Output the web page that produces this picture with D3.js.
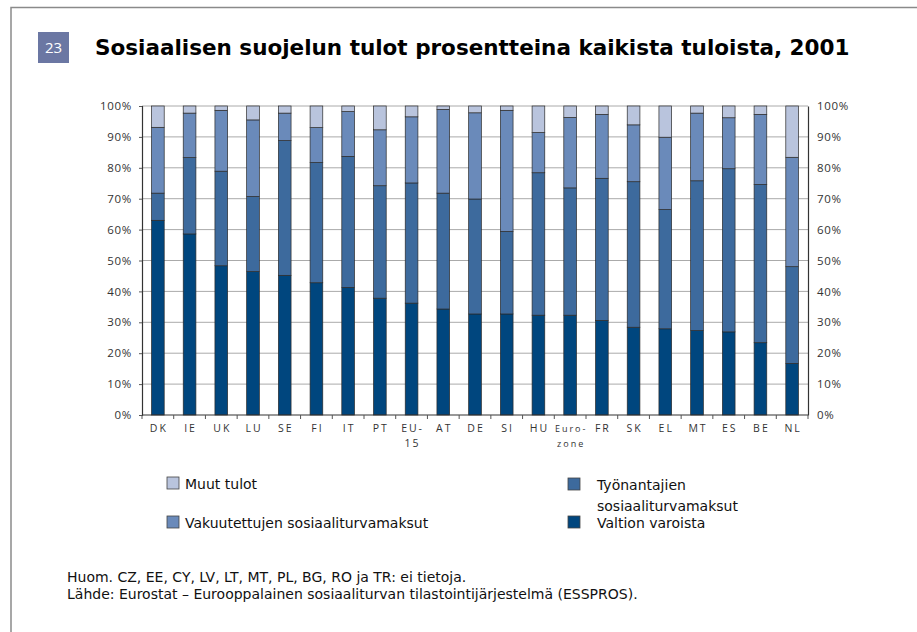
<!DOCTYPE html>
<html>
<head>
<meta charset="utf-8">
<script src="https://cdn.jsdelivr.net/npm/d3@7"></script>
<style>
  html, body { margin: 0; padding: 0; background: #fff; }
  svg { display: block; }
</style>
</head>
<body>
<svg id="chart" width="917" height="632"></svg>
<script>
// Categories (multi-line labels split by "\n")
const categories = ['DK', 'IE', 'UK', 'LU', 'SE', 'FI', 'IT', 'PT', 'EU-\n15', 'AT', 'DE', 'SI', 'HU', 'Euro-\nzone', 'FR', 'SK', 'EL', 'MT', 'ES', 'BE', 'NL'];

// Series values, % of all receipts
const valtion        = [63.0, 58.6, 48.3, 46.4, 45.2, 42.8, 41.3, 37.8, 36.2, 34.3, 32.7, 32.7, 32.3, 32.3, 30.6, 28.4, 27.9, 27.3, 26.9, 23.4, 16.7];
const tyonantajien   = [ 8.8, 24.7, 30.6, 24.3, 43.6, 38.9, 42.4, 36.4, 38.9, 37.5, 37.2, 26.7, 46.1, 41.2, 46.0, 47.1, 38.6, 48.5, 52.8, 51.2, 31.3];
const vakuutettujen  = [21.3, 14.4, 19.7, 24.8,  8.9, 11.3, 14.5, 18.1, 21.4, 27.1, 27.9, 39.2, 13.0, 22.8, 20.7, 18.4, 23.4, 21.9, 16.5, 22.7, 35.4];
const muut           = [ 6.9,  2.3,  1.4,  4.5,  2.3,  7.0,  1.8,  7.7,  3.5,  1.1,  2.2,  1.4,  8.6,  3.7,  2.7,  6.1, 10.1,  2.3,  3.8,  2.7, 16.6];

const yTicks = [0, 10, 20, 30, 40, 50, 60, 70, 80, 90, 100];

const seriesKeys = ['valtion', 'tyonantajien', 'vakuutettujen', 'muut'];
const colors = {
  valtion: '#00467e',
  tyonantajien: '#3d6a9d',
  vakuutettujen: '#6a8aba',
  muut: '#b9c4dd'
};

const rows = categories.map((c, i) => ({
  cat: c,
  valtion: valtion[i],
  tyonantajien: tyonantajien[i],
  vakuutettujen: vakuutettujen[i],
  muut: muut[i]
}));

const svg = d3.select('#chart');
const axisFont = '"Open Sans", "Noto Sans", sans-serif';
const textFont = '"DejaVu Sans", Verdana, sans-serif';

// Page frame
svg.append('path')
  .attr('d', 'M11,632 V7.5 H917')
  .attr('fill', 'none')
  .attr('stroke', '#8a8a8a')
  .attr('stroke-width', 1.5);

// Number badge
svg.append('rect')
  .attr('x', 38).attr('y', 32)
  .attr('width', 31).attr('height', 31)
  .attr('fill', '#6b77a3');
svg.append('text')
  .attr('x', 53.5).attr('y', 53)
  .attr('text-anchor', 'middle')
  .attr('fill', '#fff')
  .style('font-family', axisFont)
  .style('font-size', '15px')
  .text('23');

// Title
svg.append('text')
  .attr('x', 95).attr('y', 55)
  .style('font-family', textFont)
  .style('font-weight', 'bold')
  .style('font-size', '21.5px')
  .attr('fill', '#000')
  .text('Sosiaalisen suojelun tulot prosentteina kaikista tuloista, 2001');

// Plot area
const margin = { left: 142, right: 808, top: 106, bottom: 415 };

const x = d3.scaleBand()
  .domain(categories)
  .range([margin.left, margin.right])
  .paddingInner(0.6)
  .paddingOuter(0.3);

const y = d3.scaleLinear()
  .domain([0, 100])
  .range([margin.bottom, margin.top]);

// Gridlines
svg.append('g')
  .selectAll('line')
  .data(yTicks.filter(d => d > 0))
  .enter()
  .append('line')
  .attr('x1', margin.left)
  .attr('x2', margin.right)
  .attr('y1', d => y(d))
  .attr('y2', d => y(d))
  .attr('stroke', '#aaaaaa')
  .attr('stroke-width', 1);

// Stacked bars
const stacked = d3.stack().keys(seriesKeys)(rows);

svg.append('g')
  .selectAll('g')
  .data(stacked)
  .enter()
  .append('g')
  .attr('fill', d => colors[d.key])
  .selectAll('rect')
  .data(d => d)
  .enter()
  .append('rect')
  .attr('x', d => x(d.data.cat))
  .attr('width', x.bandwidth())
  .attr('y', d => y(d[1]))
  .attr('height', d => y(d[0]) - y(d[1]))
  .attr('stroke', '#2a2a2a')
  .attr('stroke-width', 0.7);

// Axes
const yLeft = d3.axisLeft(y).tickValues(yTicks).tickSize(3).tickFormat(d => d + '%');
const yRight = d3.axisRight(y).tickValues(yTicks).tickSize(0).tickFormat(d => d + '%');

const leftG = svg.append('g')
  .attr('transform', `translate(${margin.left},0)`)
  .call(yLeft);
const rightG = svg.append('g')
  .attr('transform', `translate(${margin.right},0)`)
  .call(yRight);

[leftG, rightG].forEach(g => {
  g.select('.domain').attr('stroke', '#333').attr('stroke-width', 1.2);
  g.selectAll('.tick line').attr('stroke', '#555');
  g.selectAll('.tick text')
    .attr('fill', '#333')
    .style('font-family', axisFont)
    .style('font-size', '11.5px')
    .style('letter-spacing', '0.7px');
});
leftG.selectAll('.tick text').attr('x', -10);
rightG.selectAll('.tick text').attr('x', 9);

// Bottom axis: ticks at band boundaries
const boundaries = d3.range(categories.length + 1).map(i => margin.left + i * (margin.right - margin.left) / categories.length);

svg.append('line')
  .attr('x1', margin.left).attr('x2', margin.right)
  .attr('y1', margin.bottom).attr('y2', margin.bottom)
  .attr('stroke', '#333').attr('stroke-width', 1.2);

svg.append('g')
  .selectAll('line')
  .data(boundaries)
  .enter()
  .append('line')
  .attr('x1', d => d).attr('x2', d => d)
  .attr('y1', margin.bottom).attr('y2', margin.bottom + 4)
  .attr('stroke', '#555');

const xLabels = svg.append('g')
  .selectAll('text')
  .data(categories)
  .enter()
  .append('text')
  .attr('x', d => x(d) + x.bandwidth() / 2)
  .attr('y', 432)
  .attr('text-anchor', 'middle')
  .attr('fill', '#333')
  .style('font-family', axisFont)
  .style('font-size', '10.5px')
  .style('letter-spacing', '2px');

xLabels.each(function(d) {
  const lines = d.split('\n');
  const t = d3.select(this);
  lines.forEach((ln, i) => {
    t.append('tspan')
      .attr('x', x(d) + x.bandwidth() / 2 + 1)
      .attr('dy', i === 0 ? 0 : 15)
      .style('font-size', ln === 'zone' || ln === 'Euro-' ? '9px' : null)
      .text(ln);
  });
});

// Legend
const legendItems = [
  { key: 'muut', lines: ['Muut tulot'], x: 167, y: 477, dx: 18 },
  { key: 'vakuutettujen', lines: ['Vakuutettujen sosiaaliturvamaksut'], x: 167, y: 516, dx: 18 },
  { key: 'tyonantajien', lines: ['Työnantajien', 'sosiaaliturvamaksut'], x: 568, y: 478, dx: 29 },
  { key: 'valtion', lines: ['Valtion varoista'], x: 568, y: 516, dx: 29 }
];

const legend = svg.append('g')
  .selectAll('g')
  .data(legendItems)
  .enter()
  .append('g')
  .attr('transform', d => `translate(${d.x},${d.y})`);

legend.append('rect')
  .attr('width', 12).attr('height', 12)
  .attr('fill', d => colors[d.key])
  .attr('stroke', '#444')
  .attr('stroke-width', 0.8);

legend.append('text')
  .attr('fill', '#111')
  .style('font-family', textFont)
  .style('font-size', '14px')
  .each(function(d) {
    const t = d3.select(this);
    d.lines.forEach((ln, i) => {
      t.append('tspan')
        .attr('x', d.dx)
        .attr('y', 12 + i * 21)
        .text(ln);
    });
  });

// Footnotes
const notes = [
  'Huom. CZ, EE, CY, LV, LT, MT, PL, BG, RO ja TR: ei tietoja.',
  'Lähde: Eurostat – Eurooppalainen sosiaaliturvan tilastointijärjestelmä (ESSPROS).'
];

svg.append('g')
  .selectAll('text')
  .data(notes)
  .enter()
  .append('text')
  .attr('x', 67)
  .attr('y', (d, i) => 582 + i * 17)
  .attr('fill', '#111')
  .style('font-family', textFont)
  .style('font-size', '14px')
  .text(d => d);
</script>
</body>
</html>
